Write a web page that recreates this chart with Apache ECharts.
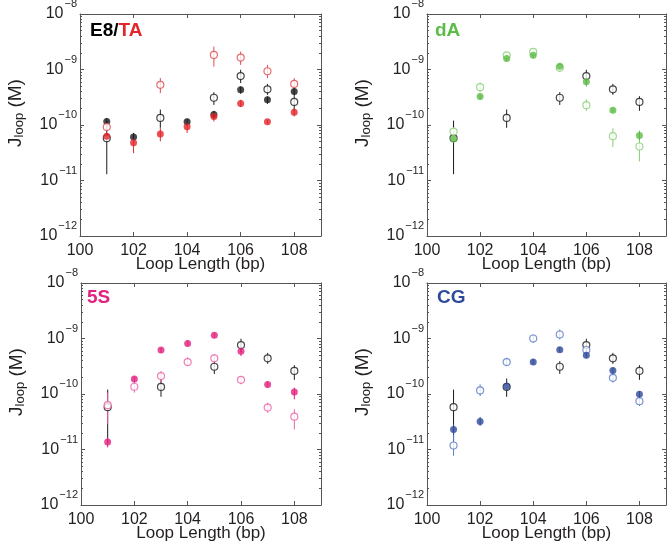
<!DOCTYPE html>
<html><head><meta charset="utf-8">
<script src="https://cdn.jsdelivr.net/npm/echarts@6/dist/echarts.min.js"></script>
<style>html,body{margin:0;padding:0;background:#fff}#c{width:672px;height:550px}</style>
</head><body><div id="c"></div>
<script>
// ---------- data ----------
const loopLength = [101, 102, 103, 104, 105, 106, 107, 108];
const xTicks = [100, 102, 104, 106, 108];
const yDecades = [-12, -11, -10, -9];
const minorMantissas = [2, 3, 4, 5, 6, 7, 8, 9];

// E8 open (reference shown in every panel)
const e8Open   = [5.8e-11, null, 1.34e-10, null, 3.1e-10, 7.6e-10, 4.4e-10, 2.6e-10];
const e8OpenLo = [1.3e-11, null, 8.9e-11, null, 2.3e-10, 5.7e-10, 3.5e-10, 1.8e-10];
const e8OpenHi = [1.2e-10, null, 1.9e-10, null, 3.9e-10, 9.9e-10, 5.5e-10, 3.3e-10];
// E8 filled
const e8Fill   = [1.16e-10, 6.1e-11, null, 1.15e-10, 1.54e-10, 4.3e-10, 2.85e-10, 4.0e-10];
const e8FillLo = [1.01e-10, 5.1e-11, null, 1.0e-10, 1.3e-10, 3.66e-10, 2.4e-10, 3.3e-10];
const e8FillHi = [1.34e-10, 7.2e-11, null, 1.3e-10, 1.8e-10, 4.95e-10, 3.27e-10, 4.6e-10];
// TA open
const taOpen   = [9.2e-11, null, 5.3e-10, null, 1.83e-9, 1.64e-9, 9.3e-10, 5.5e-10];
const taOpenLo = [7.7e-11, null, 3.76e-10, null, 1.13e-9, 1.21e-9, 7.0e-10, 4.3e-10];
const taOpenHi = [1.09e-10, null, 7.0e-10, null, 2.59e-9, 2.1e-9, 1.21e-9, 7.0e-10];
// TA filled
const taFill   = [6.25e-11, 4.8e-11, 6.9e-11, 9.3e-11, 1.43e-10, 2.45e-10, 1.15e-10, 1.69e-10];
const taFillLo = [5.5e-11, 3.1e-11, 5.1e-11, 7.2e-11, 1.16e-10, 2.1e-10, 1.03e-10, 1.43e-10];
const taFillHi = [7.2e-11, 5.8e-11, 8.8e-11, 1.09e-10, 1.64e-10, 2.85e-10, 1.25e-10, 2.0e-10];
// dA open
const daOpen   = [7.6e-11, 4.8e-10, 1.8e-9, 2.07e-9, 1.07e-9, 2.28e-10, 6.3e-11, 4.1e-11];
const daOpenLo = [6.4e-11, 3.9e-10, 1.55e-9, 1.8e-9, 8.96e-10, 1.8e-10, 4.0e-11, 2.2e-11];
const daOpenHi = [9.1e-11, 5.8e-10, 2.04e-9, 2.28e-9, 1.23e-9, 2.9e-10, 8.7e-11, 6.4e-11];
// dA filled
const daFill   = [5.6e-11, 3.25e-10, 1.58e-9, 1.8e-9, 1.15e-9, 6.0e-10, 1.85e-10, 6.5e-11];
const daFillLo = [4.8e-11, 2.9e-10, 1.4e-9, 1.6e-9, 1.03e-9, 4.9e-10, 1.68e-10, 5.25e-11];
const daFillHi = [6.9e-11, 3.6e-10, 1.73e-9, 2.0e-9, 1.28e-9, 6.8e-10, 2.05e-10, 7.9e-11];
// 5S open
const s5Open   = [6.3e-11, 1.35e-10, 2.1e-10, 3.76e-10, 4.4e-10, 1.8e-10, 5.7e-11, 3.9e-11];
const s5OpenLo = [2.85e-11, 1.06e-10, 1.6e-10, 3.2e-10, 3.67e-10, 1.5e-10, 4.6e-11, 2.3e-11];
const s5OpenHi = [1.06e-10, 1.71e-10, 2.6e-10, 4.6e-10, 5.2e-10, 2.1e-10, 7.0e-11, 5.3e-11];
// 5S filled
const s5Fill   = [1.37e-11, 1.86e-10, 6.2e-10, 8.1e-10, 1.15e-9, 5.9e-10, 1.49e-10, 1.09e-10];
const s5FillLo = [1.09e-11, 1.65e-10, 5.5e-10, 7.3e-10, 1.03e-9, 4.8e-10, 1.3e-10, 8.0e-11];
const s5FillHi = [1.64e-11, 2.1e-10, 6.8e-10, 9.2e-10, 1.27e-9, 6.8e-10, 1.67e-10, 1.3e-10];
// CG open
const cgOpen   = [1.18e-11, 1.16e-10, 3.76e-10, 1.0e-9, 1.18e-9, 6.2e-10, 1.96e-10, 7.4e-11];
const cgOpenLo = [7.7e-12, 9.2e-11, 3.2e-10, 8.3e-10, 9.6e-10, 5.2e-10, 1.6e-10, 6.1e-11];
const cgOpenHi = [2.5e-11, 1.49e-10, 4.5e-10, 1.18e-9, 1.45e-9, 7.3e-10, 2.4e-10, 9.2e-11];
// CG filled
const cgFill   = [2.3e-11, 3.2e-11, 1.36e-10, 3.76e-10, 6.3e-10, 5.0e-10, 2.66e-10, 9.9e-11];
const cgFillLo = [1.83e-11, 2.66e-11, 1.13e-10, 3.4e-10, 5.76e-10, 4.4e-10, 2.4e-10, 8.6e-11];
const cgFillHi = [2.85e-11, 3.86e-11, 1.71e-10, 4.2e-10, 6.9e-10, 5.7e-10, 3.0e-10, 1.13e-10];

// ---------- styles ----------
const FONT = '"Liberation Sans", Arial, Helvetica, sans-serif';
const TXT = '#231f20';
const FRAME = '#555555';
const BLACK = '#1a1a1a';
const RED = '#e3262b', RED_O = '#e04a4d';
const GREEN = '#5cbc47', GREEN_O = '#88cf74';
const PINK = '#e2227f', PINK_O = '#ea62a5';
const BLUE = '#2e4a9b', BLUE_O = '#5d7bc4';

const grids = [
  {left: 80, top: 14, width: 241, height: 222},
  {left: 427, top: 14, width: 239, height: 222},
  {left: 81, top: 283, width: 240, height: 222},
  {left: 427, top: 283, width: 239, height: 222}
];

const minorExp = [];
yDecades.forEach(d => minorMantissas.forEach(m => minorExp.push(d + Math.log10(m))));

const panelSets = [
  [[e8Fill, e8FillLo, e8FillHi, BLACK, false], [e8Open, e8OpenLo, e8OpenHi, BLACK, true],
   [taFill, taFillLo, taFillHi, RED, false], [taOpen, taOpenLo, taOpenHi, RED_O, true]],
  [[e8Open, e8OpenLo, e8OpenHi, BLACK, true],
   [daOpen, daOpenLo, daOpenHi, GREEN_O, true], [daFill, daFillLo, daFillHi, GREEN, false]],
  [[e8Open, e8OpenLo, e8OpenHi, BLACK, true],
   [s5Open, s5OpenLo, s5OpenHi, PINK_O, true], [s5Fill, s5FillLo, s5FillHi, PINK, false]],
  [[e8Open, e8OpenLo, e8OpenHi, BLACK, true],
   [cgOpen, cgOpenLo, cgOpenHi, BLUE_O, true], [cgFill, cgFillLo, cgFillHi, BLUE, false]]
];

function yLabelFmt(v) {
  const e = Math.round(Math.log10(v));
  return '{b|10}{s|\u2212' + Math.abs(e) + '}';
}

const xAxis = [], yAxis = [], series = [];
grids.forEach((g, gi) => {
  const tickStyle = {color: FRAME, width: 1};
  xAxis.push({gridIndex: gi, type: 'value', min: 100, max: 109, position: 'bottom',
    axisLine: {show: true, lineStyle: {color: FRAME, width: 1}},
    axisTick: {show: true, inside: true, length: 4, customValues: xTicks, lineStyle: tickStyle},
    axisLabel: {show: true, customValues: xTicks, margin: 7, fontSize: 16, color: TXT, fontFamily: FONT},
    splitLine: {show: false},
    name: 'Loop Length (bp)', nameLocation: 'middle', nameGap: 20, nameMoveOverlap: false,
    nameTextStyle: {fontSize: 17, color: TXT, fontFamily: FONT}});
  xAxis.push({gridIndex: gi, type: 'value', min: 100, max: 109, position: 'top',
    axisLine: {show: true, lineStyle: {color: FRAME, width: 1}},
    axisTick: {show: true, inside: true, length: 4, customValues: xTicks, lineStyle: tickStyle},
    axisLabel: {show: false}, splitLine: {show: false}});
  yAxis.push({gridIndex: gi, type: 'log', logBase: 10, min: 1e-12, max: 1e-8, position: 'left',
    axisLine: {show: true, lineStyle: {color: FRAME, width: 1}},
    axisTick: {show: true, inside: true, length: 4, lineStyle: tickStyle},
    axisLabel: {show: true, margin: 3, formatter: yLabelFmt, fontFamily: FONT, color: TXT,
      rich: {b: {fontSize: 16, fontFamily: FONT, color: TXT},
             s: {fontSize: 11, fontFamily: FONT, color: TXT, padding: [0, 0, 20, 1]}}},
    splitLine: {show: false}, minorTick: {show: false},
    name: '{j|J}{s|loop}{m| (M)}', nameLocation: 'middle', nameRotate: 90, nameGap: 54, nameMoveOverlap: false,
    nameTextStyle: {fontFamily: FONT, color: TXT, fontSize: 19,
      rich: {j: {fontSize: 19, fontFamily: FONT, color: TXT, padding: [0, 0, 0, 24]},
             s: {fontSize: 13, fontFamily: FONT, color: TXT, verticalAlign: 'bottom', padding: [7, 0, 0, 0]},
             m: {fontSize: 19, fontFamily: FONT, color: TXT}}}});
  yAxis.push({gridIndex: gi, type: 'value', min: -12, max: -8, position: 'left',
    axisLine: {show: false},
    axisTick: {show: true, inside: true, length: 2, customValues: minorExp, lineStyle: tickStyle},
    axisLabel: {show: false}, splitLine: {show: false}});
  yAxis.push({gridIndex: gi, type: 'log', logBase: 10, min: 1e-12, max: 1e-8, position: 'right',
    axisLine: {show: true, lineStyle: {color: FRAME, width: 1}},
    axisTick: {show: true, inside: true, length: 4, lineStyle: tickStyle},
    axisLabel: {show: false}, splitLine: {show: false}});
  yAxis.push({gridIndex: gi, type: 'value', min: -12, max: -8, position: 'right',
    axisLine: {show: false},
    axisTick: {show: true, inside: true, length: 2, customValues: minorExp, lineStyle: tickStyle},
    axisLabel: {show: false}, splitLine: {show: false}});

  panelSets[gi].forEach(([vals, lo, hi, color, open]) => {
    const err = [], pts = [];
    loopLength.forEach((x, k) => {
      if (vals[k] == null) return;
      err.push([x, lo[k], hi[k]]);
      pts.push([x, vals[k]]);
    });
    series.push({type: 'custom', xAxisIndex: 2 * gi, yAxisIndex: 4 * gi, data: err,
      encode: {x: 0, y: [1, 2]}, silent: true, clip: false,
      renderItem: (p, api) => {
        const a = api.coord([api.value(0), api.value(1)]);
        const b = api.coord([api.value(0), api.value(2)]);
        return {type: 'line', shape: {x1: a[0], y1: a[1], x2: b[0], y2: b[1]},
                style: {stroke: color, lineWidth: 1}};
      }});
    series.push({type: 'scatter', xAxisIndex: 2 * gi, yAxisIndex: 4 * gi, data: pts,
      symbol: 'circle', symbolSize: 7, silent: true,
      itemStyle: open ? {color: '#ffffff', borderColor: color, borderWidth: 1.2} : {color: color}});
  });
});

const titleStyle = {fontSize: 19, fontWeight: 'bold', fontFamily: FONT};
const option = {
  animation: false,
  backgroundColor: '#ffffff',
  grid: grids.map(g => Object.assign({containLabel: false, outerBoundsMode: 'none'}, g)),
  title: [
    {text: '{a|E8/}{b|TA}', left: 90, top: 21, padding: 0,
     textStyle: Object.assign({}, titleStyle, {rich: {
       a: Object.assign({color: '#000000'}, titleStyle), b: Object.assign({color: RED}, titleStyle)}})},
    {text: 'dA', left: 435, top: 21, padding: 0, textStyle: Object.assign({color: GREEN}, titleStyle)},
    {text: '5S', left: 87, top: 288, padding: 0, textStyle: Object.assign({color: PINK}, titleStyle)},
    {text: 'CG', left: 437, top: 288, padding: 0, textStyle: Object.assign({color: BLUE}, titleStyle)}
  ],
  xAxis: xAxis,
  yAxis: yAxis,
  series: series
};
const chart = echarts.init(document.getElementById('c'), null, {renderer: 'canvas'});
chart.setOption(option);
</script>
</body></html>
